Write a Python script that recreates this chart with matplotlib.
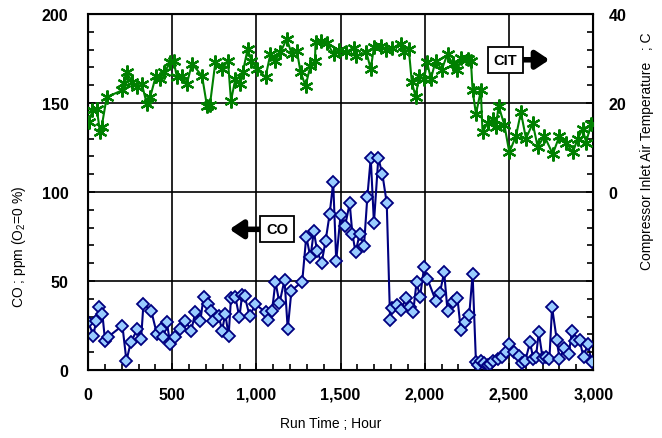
import matplotlib
matplotlib.use('Agg')
import matplotlib.pyplot as plt
from matplotlib.ticker import MultipleLocator, FuncFormatter

plt.rcParams['font.family'] = ['Liberation Sans', 'DejaVu Sans']
plt.rcParams['mathtext.fontset'] = 'custom'
plt.rcParams['mathtext.rm'] = 'Liberation Sans'

# CO concentration (left axis, ppm)
co_hours = [2, 32, 48, 65, 85, 101, 117, 204, 228, 254, 293, 315, 329, 375, 409,
            435, 448, 468, 488, 514, 548, 577, 613, 637, 667, 686, 712, 730, 742,
            776, 796, 815, 835, 849, 875, 899, 915, 930, 960, 994, 1054, 1069,
            1093, 1113, 1137, 1167, 1186, 1208, 1272, 1296, 1321, 1341, 1361,
            1387, 1411, 1435, 1456, 1474, 1500, 1526, 1554, 1570, 1589, 1613,
            1639, 1659, 1679, 1698, 1724, 1748, 1774, 1794, 1808, 1837, 1861,
            1887, 1911, 1931, 1951, 1972, 1996, 2016, 2065, 2089, 2115, 2135,
            2165, 2194, 2214, 2240, 2264, 2284, 2304, 2318, 2333, 2350, 2373,
            2390, 2403, 2433, 2458, 2480, 2502, 2530, 2558, 2575, 2597, 2625,
            2645, 2660, 2677, 2700, 2720, 2740, 2756, 2784, 2800, 2829, 2855,
            2875, 2890, 2919, 2943, 2968, 2992]
co_ppm = [26.8, 19.3, 27.7, 35.2, 31.5, 16.5, 18.4, 24.9, 5.2, 15.5, 23.0, 17.4,
          37.0, 33.3, 20.2, 23.0, 18.4, 26.8, 14.6, 18.4, 23.0, 27.7, 22.1, 32.4,
          27.7, 40.8, 37.0, 33.3, 27.7, 30.5, 22.1, 31.5, 19.3, 40.3, 40.8, 29.6,
          42.1, 41.5, 30.2, 37.0, 32.4, 28.3, 33.3, 49.6, 37.5, 50.6, 23.0, 44.6,
          49.6, 74.9, 63.3, 77.9, 66.7, 60.1, 72.6, 87.6, 105.4, 61.4, 87.2, 80.7,
          93.6, 76.4, 66.1, 76.4, 69.8, 97.4, 119.1, 82.6, 119.1, 110.1, 93.8,
          28.1, 34.8, 36.7, 33.9, 40.4, 35.2, 32.4, 49.3, 41.2, 57.7, 51.1, 38.9,
          43.0, 54.9, 33.3, 38.0, 40.3, 22.5, 26.8, 30.9, 53.9, 4.3, 3.0, 5.2,
          4.0, 2.8, 3.5, 5.0, 6.2, 7.5, 10.0, 14.6, 10.0, 8.1, 4.0, 5.2, 15.5,
          6.2, 7.0, 21.2, 6.6, 7.0, 6.0, 35.2, 16.9, 6.2, 12.2, 9.0, 22.1, 16.0,
          16.9, 7.1, 14.6, 4.3]

# compressor inlet air temperature (right axis, C)
cit_hours = [5, 26, 52, 71, 80, 111, 200, 216, 230, 260, 290, 319, 349, 369, 403,
             429, 454, 488, 508, 528, 557, 587, 617, 677, 706, 724, 756, 796, 831,
             849, 875, 905, 919, 948, 970, 1004, 1054, 1083, 1113, 1143, 1180,
             1210, 1240, 1262, 1292, 1321, 1348, 1351, 1381, 1421, 1458, 1488,
             1530, 1580, 1589, 1653, 1679, 1698, 1738, 1768, 1808, 1857, 1877,
             1905, 1923, 1946, 1966, 1996, 2014, 2036, 2065, 2101, 2135, 2165,
             2194, 2214, 2254, 2274, 2284, 2304, 2333, 2343, 2373, 2403, 2423,
             2438, 2473, 2502, 2542, 2571, 2601, 2641, 2671, 2710, 2760, 2800,
             2839, 2879, 2909, 2938, 2958, 2988]
cit_temp = [15.7, 18.3, 18.7, 13.4, 14.5, 21.3, 22.8, 24.5, 27.0, 24.8, 23.5, 24.3,
            19.8, 21.3, 26.1, 25.4, 26.9, 29.1, 29.5, 25.8, 26.0, 24.3, 28.8, 26.1,
            19.4, 19.6, 29.1, 27.6, 29.5, 20.5, 25.4, 24.3, 26.9, 32.1, 29.5, 27.6,
            25.8, 31.0, 29.5, 31.4, 34.4, 31.0, 31.7, 27.0, 23.8, 28.4, 29.5, 33.6,
            34.0, 33.4, 31.0, 32.0, 31.4, 32.4, 30.5, 31.4, 27.6, 32.5, 32.9, 31.8,
            32.3, 33.3, 31.4, 32.1, 24.7, 21.3, 26.1, 25.4, 29.1, 25.4, 29.5, 27.5,
            31.0, 28.8, 27.3, 30.0, 29.9, 29.5, 22.8, 17.5, 22.8, 13.4, 15.5, 16.3,
            14.6, 19.4, 15.0, 8.9, 12.6, 17.9, 12.0, 15.4, 10.1, 12.6, 8.5, 12.6,
            11.1, 8.9, 12.0, 14.2, 11.1, 15.3]

fig = plt.figure(figsize=(6.62, 4.39), dpi=100)
ax = fig.add_axes([0.133, 0.155, 0.763, 0.811])

ax.plot(co_hours, co_ppm, color='#000080', lw=1.5, marker='D', ms=6.5,
        mfc='#99CCFF', mec='#000080', mew=1.3, zorder=3)

ax.set_xlim(0, 3000)
ax.set_ylim(0, 200)
ax.xaxis.set_major_locator(MultipleLocator(500))
ax.xaxis.set_minor_locator(MultipleLocator(100))
ax.yaxis.set_major_locator(MultipleLocator(50))
ax.yaxis.set_minor_locator(MultipleLocator(10))
ax.xaxis.set_major_formatter(FuncFormatter(lambda v, p: f'{int(v):,}'))
ax.grid(True, which='major', color='black', lw=1.2)
ax.set_axisbelow(True)
ax.tick_params(which='both', direction='in', top=False, right=False, width=1.2)
ax.tick_params(which='major', length=5)
ax.tick_params(which='minor', length=4)
ax.tick_params(axis='x', which='major', pad=12, labelsize=11.5)
ax.tick_params(axis='y', which='major', pad=14, labelsize=11.5)
for lab in ax.get_xticklabels() + ax.get_yticklabels():
    lab.set_fontweight('bold')
for s in ax.spines.values():
    s.set_linewidth(1.5)

ax2 = ax.twinx()
ax2.plot(cit_hours, cit_temp, color='#008000', lw=1.5, marker=(6, 2, 0), ms=10,
         mew=1.6, zorder=3)
ax2.set_ylim(-40, 40)
ax2.set_yticks([-40, -20, 0, 20, 40])
ax2.set_yticklabels(['', '', '0', '20', '40'], fontweight='bold', fontsize=11.5)
ax2.yaxis.set_minor_locator(MultipleLocator(4))
ax2.tick_params(which='both', direction='in', width=1.2)
ax2.tick_params(which='major', length=5, pad=11)
ax2.tick_params(which='minor', length=4)

fig.text(0.5, 0.035, 'Run Time ; Hour', ha='center', va='center', fontsize=10)
fig.text(0.029, 1 - 247 / 439, 'CO ; ppm (O$_2$=0 %)', rotation=90,
         ha='center', va='center', fontsize=10)
fig.text(0.977, 1 - 151 / 439, 'Compressor Inlet Air Temperature   ; C',
         rotation=90, ha='center', va='center', fontsize=10)

box = dict(boxstyle='square,pad=0.4', fc='white', ec='black', lw=1.3)
arrow = dict(arrowstyle='-|>,head_length=0.75,head_width=0.5', lw=4,
             color='black', shrinkA=0, shrinkB=0)
ax2.annotate('CIT', xy=(2740, 29.7), xytext=(2478, 29.7), fontsize=10.5,
             fontweight='bold', ha='center', va='center', bbox=box,
             arrowprops=arrow, zorder=5)
ax2.annotate('CO', xy=(840, -8.4), xytext=(1122, -8.4), fontsize=10.5,
             fontweight='bold', ha='center', va='center', bbox=box,
             arrowprops=arrow, zorder=5)

fig.savefig('out.png', dpi=100)
